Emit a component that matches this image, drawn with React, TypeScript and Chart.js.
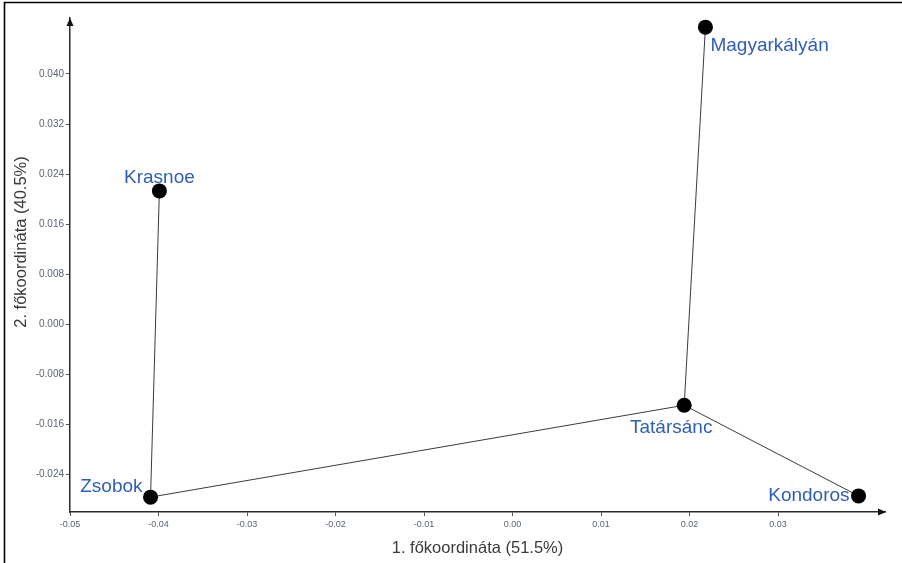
import React, { useEffect, useRef } from 'react';
import { Chart, registerables } from 'chart.js';

Chart.register(...registerables);

// ---- data ----
const siteNames = ['Magyarkályán', 'Krasnoe', 'Zsobok', 'Tatársánc', 'Kondoros'];
const coord1 = [0.0218, -0.0399, -0.0409, 0.0194, 0.0391];
const coord2 = [0.0475, 0.0213, -0.0277, -0.0130, -0.0275];
// minimum spanning tree edges (indices into siteNames)
const treeEdges: [number, number][] = [[1, 2], [2, 3], [3, 0], [3, 4]];

const xTickValues = [-0.05, -0.04, -0.03, -0.02, -0.01, 0, 0.01, 0.02, 0.03];
const xTickLabels = ['-0.05', '-0.04', '-0.03', '-0.02', '-0.01', '0.00', '0.01', '0.02', '0.03'];
const yTickValues = [-0.024, -0.016, -0.008, 0, 0.008, 0.016, 0.024, 0.032, 0.04];
const yTickLabels = ['-0.024', '-0.016', '-0.008', '0.000', '0.008', '0.016', '0.024', '0.032', '0.040'];

const xAxisTitle = '1. főkoordináta (51.5%)';
const yAxisTitle = '2. főkoordináta (40.5%)';

// ---- label placement (style, not data) ----
const labelDx = [5, 0, -8, -13, -9];
const labelDy = [19, -13, -10, 23, 0];
const labelAlign: CanvasTextAlign[] = ['left', 'center', 'right', 'center', 'right'];

const FONT = "'Liberation Sans', Arial, sans-serif";

export default function App() {
  const ref = useRef<HTMLCanvasElement | null>(null);

  useEffect(() => {
    document.body.style.margin = '0';
    const canvas = ref.current;
    if (!canvas) return;

    const points = siteNames.map((_, i) => ({ x: coord1[i], y: coord2[i] }));

    const decorPlugin = {
      id: 'decor',
      beforeDraw(chart: any) {
        const ctx = chart.ctx;
        ctx.save();
        ctx.fillStyle = '#ffffff';
        ctx.fillRect(0, 0, chart.width, chart.height);
        ctx.strokeStyle = '#000000';
        ctx.lineWidth = 1.6;
        ctx.beginPath();
        ctx.moveTo(4.5, 563);
        ctx.lineTo(4.5, 2.5);
        ctx.lineTo(902, 2.5);
        ctx.stroke();
        ctx.restore();
      },
      afterDraw(chart: any) {
        const ctx = chart.ctx;
        const a = chart.chartArea;
        ctx.save();
        ctx.fillStyle = '#111111';
        // y arrow
        ctx.beginPath();
        ctx.moveTo(a.left, a.top);
        ctx.lineTo(a.left - 3.5, a.top + 8);
        ctx.lineTo(a.left + 3.5, a.top + 8);
        ctx.closePath();
        ctx.fill();
        // x arrow
        ctx.beginPath();
        ctx.moveTo(a.right + 1, a.bottom);
        ctx.lineTo(a.right - 7, a.bottom - 3.5);
        ctx.lineTo(a.right - 7, a.bottom + 3.5);
        ctx.closePath();
        ctx.fill();

        // axis titles
        ctx.fillStyle = '#3a3a3a';
        ctx.font = `16.5px ${FONT}`;
        ctx.textAlign = 'center';
        ctx.textBaseline = 'middle';
        ctx.fillText(xAxisTitle, (a.left + a.right) / 2, 548);
        ctx.translate(21, 242);
        ctx.rotate(-Math.PI / 2);
        ctx.fillText(yAxisTitle, 0, 0);
        ctx.restore();
      },
      afterDatasetsDraw(chart: any) {
        const ctx = chart.ctx;
        const meta = chart.getDatasetMeta(chart.data.datasets.length - 1);
        ctx.save();
        ctx.font = `19px ${FONT}`;
        ctx.fillStyle = '#2f5fb5';
        ctx.textBaseline = 'middle';
        meta.data.forEach((el: any, i: number) => {
          ctx.textAlign = labelAlign[i];
          ctx.fillText(siteNames[i], el.x + labelDx[i], el.y + labelDy[i]);
        });
        ctx.restore();
      },
    };

    const chart = new Chart(canvas, {
      type: 'scatter',
      data: {
        datasets: [
          ...treeEdges.map(([a, b]) => ({
            data: [points[a], points[b]],
            showLine: true,
            borderColor: '#3c3c3c',
            borderWidth: 1,
            pointRadius: 0,
            pointHoverRadius: 0,
            order: 2,
          })),
          {
            data: points,
            showLine: false,
            pointRadius: 7.5,
            pointHoverRadius: 7.5,
            backgroundColor: '#000000',
            borderColor: '#000000',
            borderWidth: 0,
            order: 1,
          },
        ],
      } as any,
      options: {
        responsive: false,
        animation: false,
        events: [],
        layout: { padding: { left: 0, top: 18, right: 17, bottom: 0 } },
        plugins: { legend: { display: false }, tooltip: { enabled: false } },
        scales: {
          x: {
            type: 'linear',
            min: -0.05,
            max: 0.04209,
            afterBuildTicks: (s: any) => {
              s.ticks = xTickValues.map((v) => ({ value: v }));
            },
            afterFit: (s: any) => {
              s.height = 51;
            },
            ticks: {
              autoSkip: false,
              maxRotation: 0,
              padding: 3,
              color: '#5a6470',
              font: { family: FONT, size: 9 },
              callback: (v: any) => {
                const i = xTickValues.findIndex((t) => Math.abs(t - v) < 1e-9);
                return i >= 0 ? xTickLabels[i] : '';
              },
            },
            grid: { drawOnChartArea: false, drawTicks: true, tickLength: 4, color: '#555555' },
            border: { display: true, color: '#2a2a2a', width: 1.5 },
          },
          y: {
            type: 'linear',
            min: -0.03008,
            max: 0.04896,
            afterBuildTicks: (s: any) => {
              s.ticks = yTickValues.map((v) => ({ value: v }));
            },
            afterFit: (s: any) => {
              s.width = 70;
            },
            ticks: {
              autoSkip: false,
              padding: 2,
              color: '#5a6470',
              font: { family: FONT, size: 10 },
              callback: (v: any) => {
                const i = yTickValues.findIndex((t) => Math.abs(t - v) < 1e-9);
                return i >= 0 ? yTickLabels[i] : '';
              },
            },
            grid: { drawOnChartArea: false, drawTicks: true, tickLength: 4, color: '#555555' },
            border: { display: true, color: '#2a2a2a', width: 1.5 },
          },
        },
      } as any,
      plugins: [decorPlugin],
    });

    return () => chart.destroy();
  }, []);

  return (
    <div style={{ width: 902, height: 563 }}>
      <canvas ref={ref} width={902} height={563} style={{ display: 'block', width: 902, height: 563 }} />
    </div>
  );
}
